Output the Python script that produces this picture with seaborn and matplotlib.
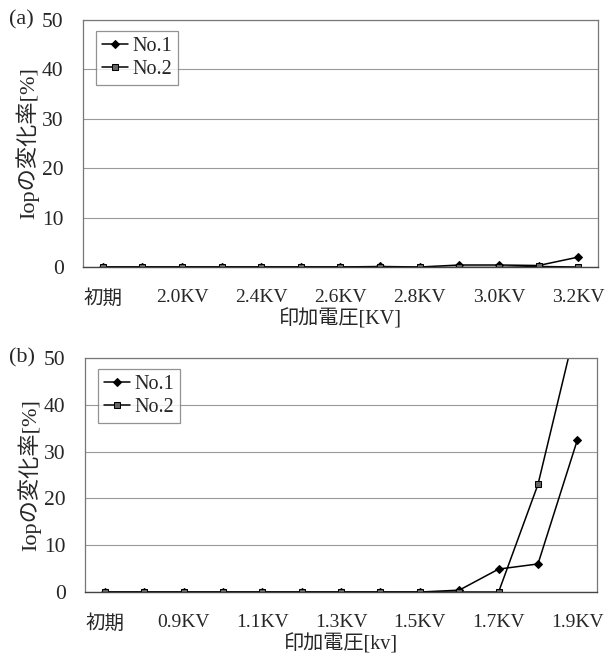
import numpy as np
import pandas as pd
import matplotlib.pyplot as plt
import seaborn as sns

sns.set_style('white')
plt.rcParams['font.family'] = ['Liberation Serif', 'Noto Sans CJK JP']
plt.rcParams['font.size'] = 14

# (a) data
volt_a = ['初期', '1.8KV', '2.0KV', '2.2KV', '2.4KV', '2.5KV', '2.6KV',
          '2.7KV', '2.8KV', '2.9KV', '3.0KV', '3.1KV', '3.2KV']
no1_a = [0, 0, 0, 0, 0, 0, 0, 0.1, 0.0, 0.4, 0.4, 0.3, 2.0]
no2_a = [0, 0, 0, 0, 0, 0, 0, -0.1, -0.1, -0.1, -0.1, 0.1, 0]

# (b) data
volt_b = ['初期', '0.8KV', '0.9KV', '1.0KV', '1.1KV', '1.2KV', '1.3KV',
          '1.4KV', '1.5KV', '1.6KV', '1.7KV', '1.8KV', '1.9KV']
no1_b = [0, 0, 0, 0, 0, 0, 0, 0, 0, 0.4, 4.9, 6.0, 32.5]
no2_b = [0, 0, 0, 0, 0, 0, 0, 0, 0, 0, 0, 23.0, 58.0]


def make_df(volts, a, b):
    pos = np.arange(len(volts))
    d1 = pd.DataFrame({'pos': pos, 'volt': volts, 'val': a, 'sample': 'No.1'})
    d2 = pd.DataFrame({'pos': pos, 'volt': volts, 'val': b, 'sample': 'No.2'})
    return pd.concat([d1, d2], ignore_index=True)


fig = plt.figure(figsize=(6.08, 6.62), dpi=100)
ax_a = fig.add_axes([0.1365, 0.5967, 0.847, 0.373])
ax_b = fig.add_axes([0.140, 0.1057, 0.842, 0.3535])


def draw(ax, volts, a, b, tag, tag_y, xlabel):
    df = make_df(volts, a, b)
    sns.lineplot(data=df, x='pos', y='val', hue='sample', style='sample',
                 markers={'No.1': 'D', 'No.2': 's'}, dashes=False,
                 palette={'No.1': 'black', 'No.2': 'black'},
                 linewidth=1.1, markersize=5, ax=ax)
    for line in ax.lines:
        if line.get_marker() == 's':
            line.set_markerfacecolor('#666666')
            line.set_markeredgecolor('black')
        else:
            line.set_markerfacecolor('black')
            line.set_markeredgecolor('black')
            line.set_markersize(4.5)

    n = len(volts)
    ax.set_xlim(-0.5, n - 0.5)
    ax.set_ylim(0, 50)
    ax.set_yticks([0, 10, 20, 30, 40, 50])
    ax.yaxis.grid(True, color='#999999', linewidth=0.8)
    ax.set_axisbelow(True)

    shown = list(range(0, n, 2))
    ax.set_xticks(shown)
    ax.set_xticklabels([volts[i] for i in shown])
    ax.set_xticks(np.arange(0.5, n - 0.5, 1), minor=True)
    ax.tick_params(axis='x', which='major', length=0, pad=16, labelsize=14)
    ax.tick_params(axis='x', which='minor', direction='in', length=4,
                   color='#777777')
    ax.tick_params(axis='y', length=0, pad=14, labelsize=15.5)

    for s in ['left', 'top', 'right']:
        ax.spines[s].set_color('#777777')
        ax.spines[s].set_linewidth(0.9)
    ax.spines['bottom'].set_color('#444444')
    ax.spines['bottom'].set_linewidth(1.0)

    ax.set_xlabel(xlabel, fontsize=14.5, labelpad=1)
    ax.set_ylabel('Iopの変化率[%]', fontsize=16, labelpad=2)

    handles, labels = ax.get_legend_handles_labels()
    leg = ax.legend(handles, labels, loc='upper left',
                    bbox_to_anchor=(0.025, 0.955), frameon=True,
                    fancybox=False, edgecolor='#777777', fontsize=14.5,
                    handlelength=1.3, handletextpad=0.2, borderpad=0.3,
                    labelspacing=0.2, borderaxespad=0)
    leg.get_frame().set_linewidth(0.9)

    fig.text(9 / 608, tag_y, tag, fontsize=16, ha='left', va='center')


draw(ax_a, volt_a, no1_a, no2_a, '(a)', 1 - 20 / 662, '印加電圧[KV]')
draw(ax_b, volt_b, no1_b, no2_b, '(b)', 1 - 358 / 662, '印加電圧[kv]')

fig.savefig('out.png', dpi=100)
